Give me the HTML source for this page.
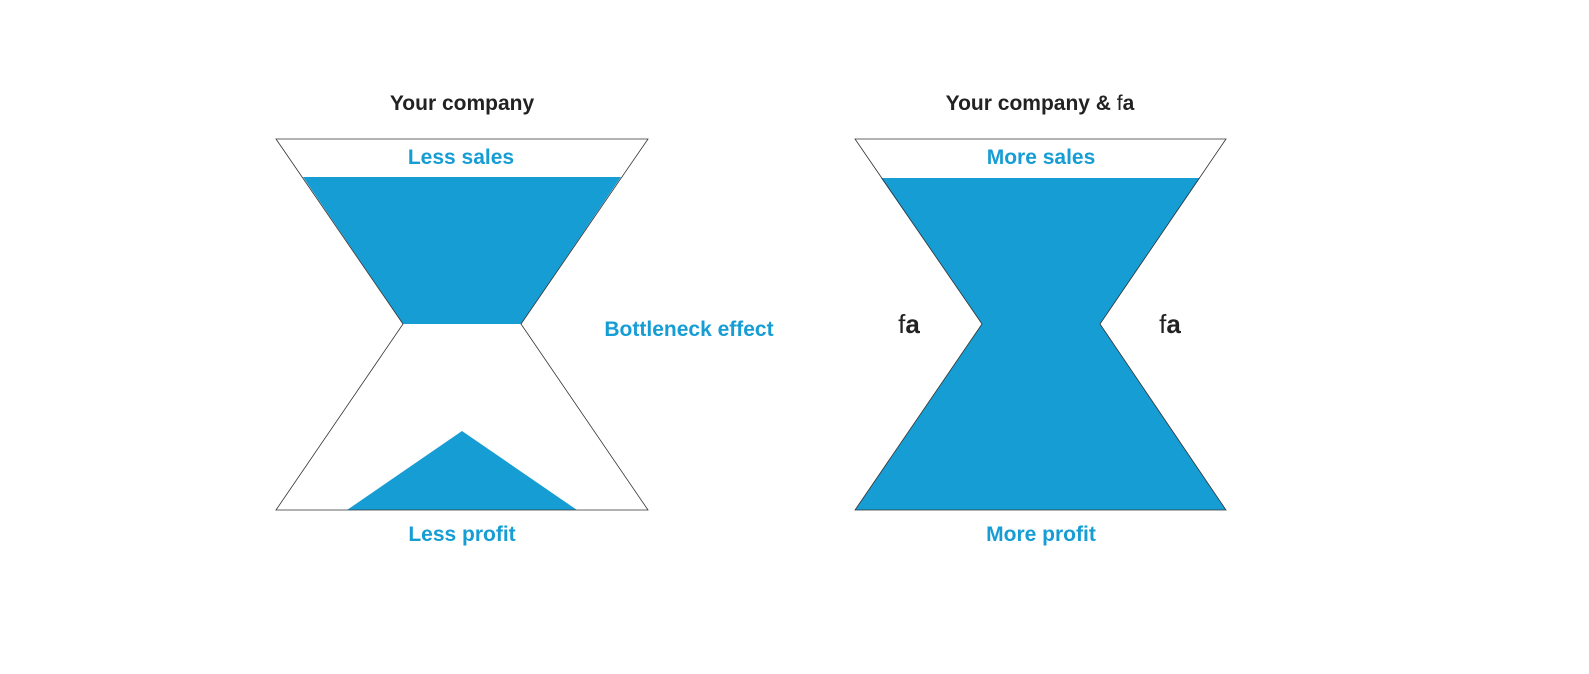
<!DOCTYPE html>
<html><head><meta charset="utf-8"><style>
html,body{margin:0;padding:0;background:#fff;}
svg{display:block;}
text{font-family:"Liberation Sans","DejaVu Sans",sans-serif;}
</style></head><body>
<svg width="1589" height="674" viewBox="0 0 1589 674" xmlns="http://www.w3.org/2000/svg">
<rect width="1589" height="674" fill="#fff"/>
<polygon points="303,177 621,177 521,324 403,324" fill="#169dd4"/>
<polygon points="347,510 462,431 577,510" fill="#169dd4"/>
<polygon points="276,139 648,139 521,324 648,510 276,510 403,324" fill="none" stroke="#333" stroke-width="0.8"/>
<polygon points="881,178 1200,178 1100,324 1226,510 855,510 982,324" fill="#169dd4"/>
<polygon points="855,139 1226,139 1100,324 1226,510 855,510 982,324" fill="none" stroke="#333" stroke-width="0.8"/>
<g font-size="21" font-weight="bold" fill="#222" text-anchor="middle">
<text x="462" y="110">Your company</text>
<text x="1040" y="110">Your company &amp; <tspan font-weight="normal">f</tspan>a</text>
</g>
<g font-size="21" font-weight="bold" fill="#169dd4" text-anchor="middle">
<text x="461" y="164">Less sales</text>
<text x="1041" y="164">More sales</text>
<text x="462" y="541">Less profit</text>
<text x="1041" y="541">More profit</text>
<text x="689" y="336">Bottleneck effect</text>
</g>
<g font-size="26" fill="#222" text-anchor="middle">
<text x="909" y="333"><tspan font-weight="normal">f</tspan><tspan font-weight="bold">a</tspan></text>
<text x="1170" y="333"><tspan font-weight="normal">f</tspan><tspan font-weight="bold">a</tspan></text>
</g>
</svg>
</body></html>
